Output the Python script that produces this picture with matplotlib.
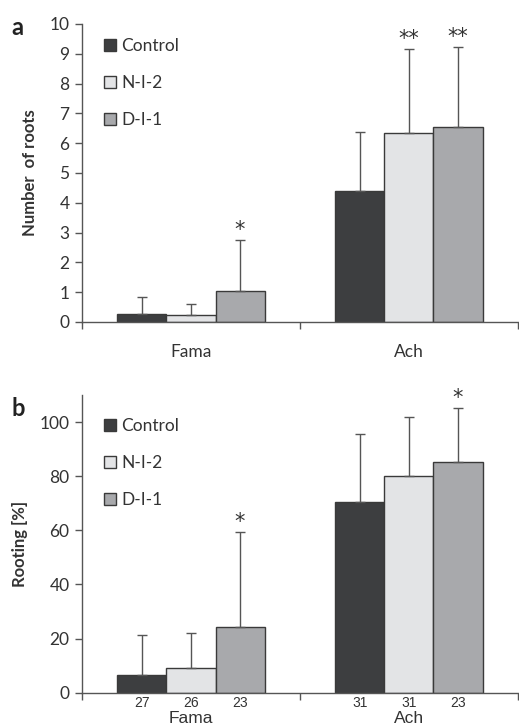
import matplotlib
matplotlib.use("Agg")
import matplotlib.pyplot as plt
import numpy as np

plt.rcParams['font.family'] = ['Lato', 'DejaVu Sans']

categories = ["Fama", "Ach"]
series = ["Control", "N-I-2", "D-I-1"]
colors = ["#3d3e40", "#e3e4e6", "#a8a9ac"]

roots_mean = {"Control": [0.27, 4.41], "N-I-2": [0.22, 6.35], "D-I-1": [1.04, 6.53]}
roots_err = {"Control": [0.58, 1.96], "N-I-2": [0.37, 2.82], "D-I-1": [1.72, 2.70]}
roots_sig = {"Control": ["", ""], "N-I-2": ["", "**"], "D-I-1": ["*", "**"]}

rooting_mean = {"Control": [6.6, 70.3], "N-I-2": [9.0, 79.9], "D-I-1": [24.2, 85.1]}
rooting_err = {"Control": [14.6, 25.3], "N-I-2": [12.9, 21.9], "D-I-1": [35.2, 20.2]}
rooting_sig = {"Control": ["", ""], "N-I-2": ["", ""], "D-I-1": ["*", "*"]}
n_labels = {"Control": ["27", "31"], "N-I-2": ["26", "31"], "D-I-1": ["23", "23"]}

text_col = "#333333"
axis_col = "#555555"

fig = plt.figure(figsize=(5.19, 7.26), dpi=100)
ax_a = fig.add_axes([0.158, 0.5565, 0.840, 0.4105])
ax_b = fig.add_axes([0.158, 0.0459, 0.840, 0.4100])

width = 0.225
centers = np.arange(len(categories)) + 0.5

def draw(ax, means, errs, sigs, ylim, yticks, ylabel, leg_y):
    for i, s in enumerate(series):
        x = centers + (i - 1) * width
        ax.bar(x, means[s], width, color=colors[i], edgecolor="#3a3a3a", linewidth=1.0,
               label=s, zorder=2)
        ax.errorbar(x, means[s], yerr=[np.zeros(len(x)), errs[s]], fmt="none",
                    ecolor="#555555", elinewidth=1.0, capsize=3.5, capthick=1.0, zorder=3)
        for xi, m, e, t in zip(x, means[s], errs[s], sigs[s]):
            if t:
                ax.text(xi, m + e, t, ha="center", va="bottom",
                        fontsize=15, color=text_col, family="DejaVu Sans")
    ax.set_xlim(0, 2)
    ax.set_ylim(*ylim)
    ax.set_yticks(yticks)
    ax.set_xticks([0, 1, 2])
    ax.set_xticklabels([])
    ax.spines["top"].set_visible(False)
    ax.spines["right"].set_visible(False)
    for sp in ("left", "bottom"):
        ax.spines[sp].set_color(axis_col)
        ax.spines[sp].set_linewidth(1.0)
    ax.tick_params(axis="both", direction="out", length=5, color=axis_col,
                   labelsize=12.5, labelcolor=text_col, width=1.0, pad=4)
    ax.set_ylabel(ylabel, fontsize=12, fontweight="bold", color=text_col, labelpad=8)
    leg = ax.legend(loc="upper left", bbox_to_anchor=(0.035, leg_y), frameon=False,
                    fontsize=12.5, handlelength=0.7, handleheight=0.7, handletextpad=0.3,
                    labelspacing=1.2, borderaxespad=0)
    for t in leg.get_texts():
        t.set_color(text_col)

draw(ax_a, roots_mean, roots_err, roots_sig, (0, 10), range(0, 11), "Number  of roots", 0.975)
draw(ax_b, rooting_mean, rooting_err, rooting_sig, (0, 110), range(0, 101, 20), "Rooting [%]", 0.945)

for c, name in zip(centers, categories):
    ax_a.text(c, -0.075, name, ha="center", va="top", fontsize=12.5, color=text_col,
              transform=ax_a.get_xaxis_transform())
    ax_b.text(c, -0.06, name, ha="center", va="top", fontsize=12.5, color=text_col,
              family="Liberation Sans", transform=ax_b.get_xaxis_transform())

for i, s in enumerate(series):
    x = centers + (i - 1) * width
    for xi, t in zip(x, n_labels[s]):
        ax_b.text(xi, -0.012, t, ha="center", va="top", fontsize=10, color=text_col,
                  family="Liberation Sans", transform=ax_b.get_xaxis_transform())

fig.text(0.022, 0.962, "a", fontsize=17, fontweight="bold", color="#222222", va="center")
fig.text(0.022, 0.438, "b", fontsize=17, fontweight="bold", color="#222222", va="center")

fig.savefig("out.png", dpi=100)
